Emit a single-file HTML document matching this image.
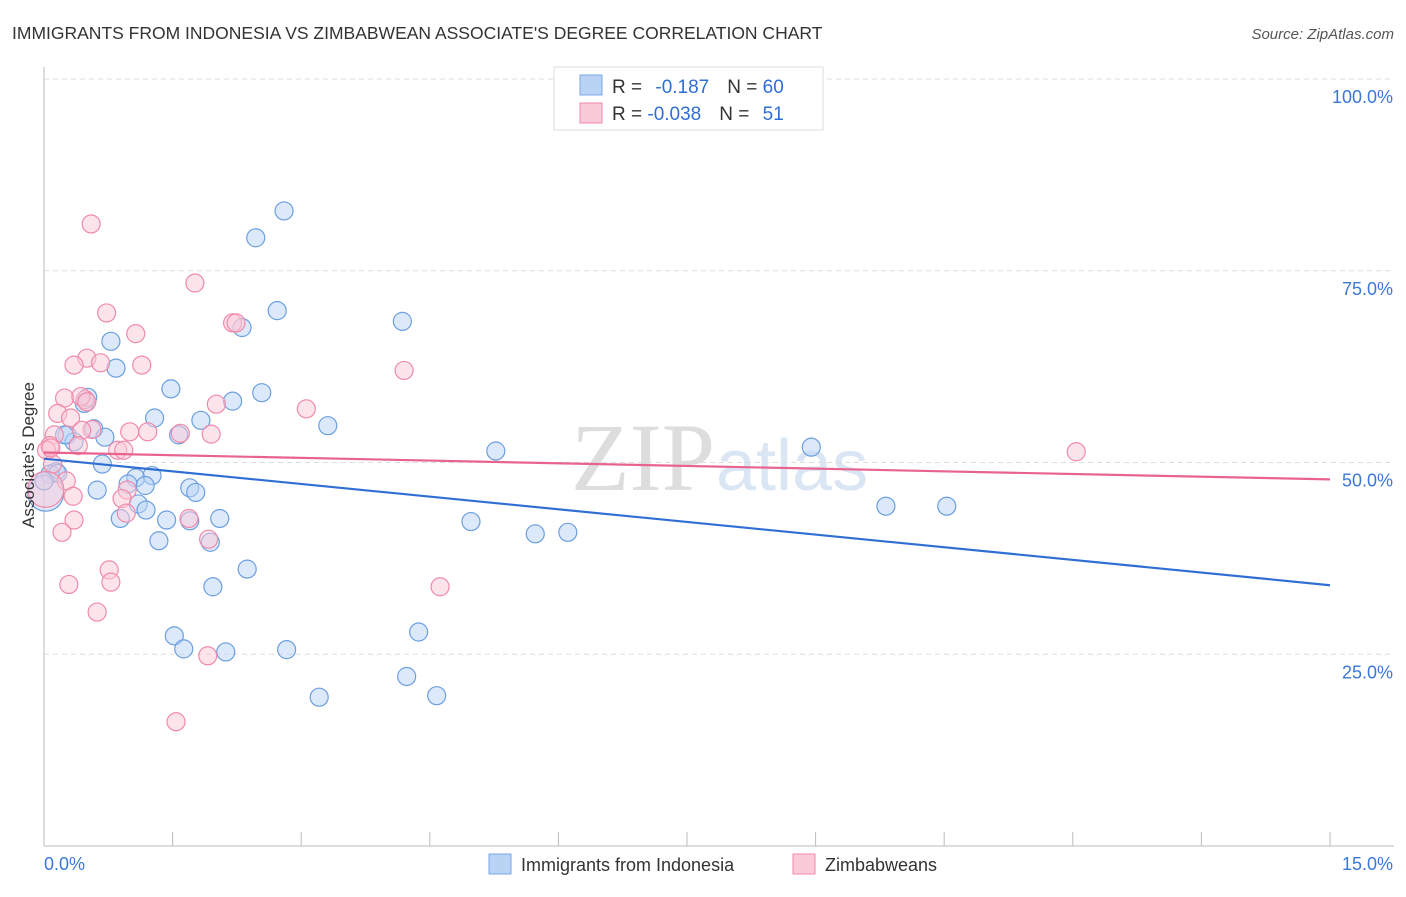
<!DOCTYPE html>
<html><head><meta charset="utf-8"><style>
body{margin:0;background:#fff;font-family:"Liberation Sans",sans-serif;}
</style></head><body>
<svg id="c" width="1406" height="892" xmlns="http://www.w3.org/2000/svg">
<text x="12" y="39" font-size="17.5" fill="#333">IMMIGRANTS FROM INDONESIA VS ZIMBABWEAN ASSOCIATE'S DEGREE CORRELATION CHART</text>
<text x="1394" y="39" font-size="15" fill="#555" font-style="italic" text-anchor="end">Source: ZipAtlas.com</text>
<text x="715" y="490" font-size="96" fill="#ddd" text-anchor="end" font-family="Liberation Serif,serif">ZIP</text>
<text x="716" y="490" font-size="72" fill="#dbe6f5">atlas</text>
<g id="grid"></g>
<g id="axes"></g>
<g id="pts"></g>
<g id="lines"></g>
<text transform="translate(34,455) rotate(-90)" font-size="17" fill="#333" text-anchor="middle">Associate's Degree</text>
<g>
<rect x="554" y="67" width="269" height="63" fill="#fff" stroke="#ddd"/>
<rect x="580" y="75" width="22" height="20" fill="#b9d3f5" stroke="#7aaae6"/>
<rect x="580" y="103" width="22" height="20" fill="#fbcad8" stroke="#f08aaa"/>
<text x="612" y="93" font-size="19" fill="#333">R = <tspan fill="#2f6fd3" dx="8">-0.187</tspan><tspan dx="18" fill="#333">N = </tspan><tspan fill="#2f6fd3">60</tspan></text>
<text x="612" y="120" font-size="19" fill="#333">R = <tspan fill="#2f6fd3">-0.038</tspan><tspan dx="18" fill="#333">N = </tspan><tspan fill="#2f6fd3" dx="8">51</tspan></text>
</g>
<g>
<rect x="489" y="854" width="22" height="20" fill="#b9d3f5" stroke="#7aaae6"/>
<text x="521" y="871" font-size="18" fill="#333">Immigrants from Indonesia</text>
<rect x="793" y="854" width="22" height="20" fill="#fbcad8" stroke="#f08aaa"/>
<text x="825" y="871" font-size="18" fill="#333">Zimbabweans</text>
</g>
</svg>
<script>
const xTicks=[0,1.5,3,4.5,6,7.5,9,10.5,12,13.5,15];
const yTicks=[25,50,75,100];
const yTickLabels=["25.0%","50.0%","75.0%","100.0%"];
const blueX=[2.80,2.47,2.72,4.18,2.31,0.78,0.84,1.48,2.54,2.20,0.47,1.29,1.83,3.31,1.57,0.58,0.71,0.27,0.35,5.27,8.95,0.68,0.14,0.07,1.07,1.26,0.98,1.18,1.70,1.77,0.62,1.10,1.19,9.82,10.53,4.98,0.89,1.43,2.05,1.70,1.34,1.94,5.73,6.11,2.37,1.97,4.37,1.52,1.63,2.12,2.83,4.23,3.21,4.58,0.02,0.16,0.51,0.24,0];
const blueY=[82.8,79.3,69.8,68.4,67.6,65.8,62.3,59.6,59.1,58.0,57.7,55.8,55.5,54.8,53.6,54.4,53.3,53.6,52.7,51.5,52.0,49.8,48.8,48.5,48.0,48.3,47.2,47.0,46.7,46.1,46.4,44.6,43.8,44.3,44.3,42.3,42.7,42.5,42.7,42.4,39.8,39.6,40.7,40.9,36.1,33.8,27.9,27.4,25.7,25.3,25.6,22.1,19.4,19.6,46.0,48.6,58.5,53.6,47.6];
const blueR=[1,1,1,1,1,1,1,1,1,1,1,1,1,1,1,1,1,1,1,1,1,1,1,1,1,1,1,1,1,1,1,1,1,1,1,1,1,1,1,1,1,1,1,1,1,1,1,1,1,1,1,1,1,1,2,1,1,1,1];
const pinkX=[0.55,1.76,0.73,1.07,2.20,2.24,4.20,0.50,1.14,0.66,0.35,0.24,0.48,0.16,0.31,0.56,3.06,2.01,1.59,1.00,1.21,1.95,0.44,0.12,12.04,0.07,0.03,0.86,0.93,0.40,0.10,0.26,0.97,0.91,0.34,0.96,0.35,1.69,0.21,1.92,0.76,0.78,0.29,4.62,0.62,1.91,1.54,0.02,0.43,0.50,0.08];
const pinkY=[81.1,73.4,69.5,66.8,68.2,68.2,62.0,63.6,62.7,63.0,62.7,58.4,58.2,56.4,55.8,54.3,57.0,57.6,53.8,54.0,54.0,53.7,54.2,53.6,51.4,52.2,51.6,51.6,51.6,52.2,49.8,47.6,46.4,45.3,45.6,43.4,42.5,42.7,40.9,40.0,36.0,34.4,34.1,33.8,30.5,24.8,16.2,46.5,58.6,57.9,51.9];
const pinkR=[1,1,1,1,1,1,1,1,1,1,1,1,1,1,1,1,1,1,1,1,1,1,1,1,1,1,1,1,1,1,1,1,1,1,1,1,1,1,1,1,1,1,1,1,1,1,1,2,1,1,1];
const blueTrend=[50.5,34.0];
const pinkTrend=[51.3,47.8];
const X0=44,X1=1330,Y0=846,Y100=79;
const xs=v=>X0+(v/15)*(X1-X0);
const ys=v=>Y0-(v/100)*(Y0-Y100);
const NS="http://www.w3.org/2000/svg";
function mk(tag,attrs,parent){const e=document.createElementNS(NS,tag);for(const k in attrs)e.setAttribute(k,attrs[k]);parent.appendChild(e);return e;}
const grid=document.getElementById('grid'),axes=document.getElementById('axes'),pts=document.getElementById('pts'),lines=document.getElementById('lines');
yTicks.forEach((t,i)=>{
 const l=mk('line',{x1:X0,x2:1394,y1:ys(t),y2:ys(t),stroke:'#ddd','stroke-dasharray':'5,4'},grid);
 
 
 const tx=mk('text',{x:1393,y:ys(t)+24,'font-size':18,fill:'#3b78d8','text-anchor':'end'},axes);
 tx.textContent=yTickLabels[i];
 
 
});
const al=mk('line',{x1:X0,x2:X0,y1:67,y2:Y0,stroke:'#bbb'},axes);


const bl=mk('line',{x1:X0,x2:1394,y1:Y0,y2:Y0,stroke:'#bbb'},axes);


xTicks.forEach(t=>{
 const l=mk('line',{x1:xs(t),x2:xs(t),y1:832,y2:Y0,stroke:'#bbb'},axes);
 
 
});
const xl0=mk('text',{x:44,y:870,'font-size':18,fill:'#3b78d8'},axes);xl0.textContent='0.0%';


const xl1=mk('text',{x:1393,y:870,'font-size':18,fill:'#3b78d8','text-anchor':'end'},axes);xl1.textContent='15.0%';


function dots(X,Y,R,fill,stroke,name){
 X.forEach((x,i)=>{
  const c=mk('circle',{cx:xs(x),cy:ys(Y[i]),r:9*R[i],fill:fill,'fill-opacity':0.5,stroke:stroke,'stroke-width':1.2},pts);
  
  
 });
}
dots(blueX,blueY,blueR,'#b9d3f5','#6b9fe0','point-indonesia');
dots(pinkX,pinkY,pinkR,'#fbcad8','#f08aaa','point-zimbabwe');
const t1=mk('line',{x1:xs(0),x2:xs(15),y1:ys(blueTrend[0]),y2:ys(blueTrend[1]),stroke:'#2f6fd3','stroke-width':2.2},lines);


const t2=mk('line',{x1:xs(0),x2:xs(15),y1:ys(pinkTrend[0]),y2:ys(pinkTrend[1]),stroke:'#e8648f','stroke-width':2.2},lines);


</script>
</body></html>
